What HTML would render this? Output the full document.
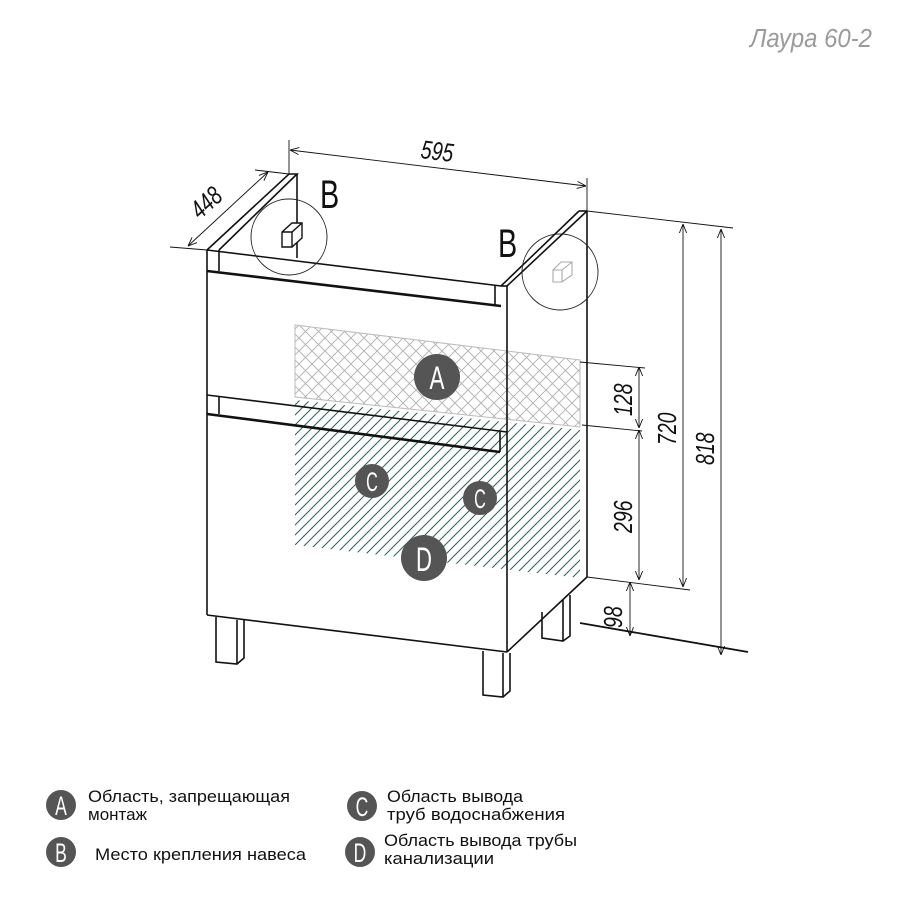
<!DOCTYPE html>
<html><head><meta charset="utf-8">
<style>
html,body{margin:0;padding:0;background:#fff;}
svg{display:block;}
.dim{font-family:"Liberation Sans",sans-serif;font-style:italic;fill:#111;}
.leg{font-family:"Liberation Sans","Noto Sans CJK SC",sans-serif;font-size:17px;fill:#111;}
.cl{font-family:"Liberation Sans",sans-serif;fill:#fff;text-anchor:middle;}
</style></head>
<body>
<svg width="917" height="917" viewBox="0 0 917 917" xmlns="http://www.w3.org/2000/svg">
<defs>
<pattern id="cross" patternUnits="userSpaceOnUse" width="13" height="13">
<path d="M0,0 L13,13 M13,0 L0,13" stroke="#b0b0b0" stroke-width="0.9"/>
</pattern>
<pattern id="green" patternUnits="userSpaceOnUse" width="10" height="10">
<path d="M-2,12 L12,-2 M-2,2 L2,-2 M8,12 L12,8" stroke="#1f6a50" stroke-width="1"/>
</pattern>
<marker id="ar" viewBox="0 0 10 10" refX="10" refY="5" markerWidth="9" markerHeight="9" orient="auto-start-reverse" markerUnits="userSpaceOnUse">
<path d="M0,1 L10,5 L0,9" fill="none" stroke="#111" stroke-width="1"/>
</marker>
</defs>
<rect width="917" height="917" fill="#fff"/>

<text transform="translate(750,47) scale(0.92,1)" font-family="Liberation Sans, sans-serif" font-style="italic" font-size="26" fill="#9a9a9a">Лаура 60-2</text>

<polygon points="295,325 580,360 580,427 295,397" fill="url(#cross)" stroke="#bbb" stroke-width="1"/>
<polygon points="295,400 580,430 580,578 295,545" fill="url(#green)"/>

<g stroke="#111" fill="none" stroke-width="1.6">
<polyline points="207,250 289,174 297,174 219,250"/>
<line x1="297" y1="174" x2="297" y2="258"/>
<line x1="207" y1="250" x2="501" y2="286"/>
<line x1="207" y1="271" x2="501" y2="306" stroke-width="2.6"/>
<line x1="219" y1="250" x2="219" y2="271"/>
<line x1="495" y1="286" x2="495" y2="305"/>
<line x1="207" y1="250" x2="207" y2="615"/>
<line x1="507" y1="286" x2="507" y2="652"/>
<line x1="501" y1="286" x2="507" y2="286"/>
<line x1="207" y1="615" x2="507" y2="652"/>
<line x1="207" y1="395" x2="507" y2="432"/>
<line x1="207" y1="414" x2="500" y2="452" stroke-width="2.6"/>
<line x1="219" y1="396" x2="219" y2="414"/>
<line x1="500" y1="432" x2="500" y2="452"/>
<line x1="501" y1="286" x2="579" y2="211"/>
<line x1="507" y1="286" x2="587" y2="211"/>
<line x1="579" y1="211" x2="587" y2="211"/>
<line x1="587" y1="211" x2="587" y2="577"/>
<line x1="507" y1="652" x2="587" y2="577"/>
<polyline points="216,617 216,662 237,664 244,658 244,620"/>
<line x1="237" y1="620" x2="237" y2="664"/>
<polyline points="483,651 483,695 503,697 510,691 510,653"/>
<line x1="503" y1="653" x2="503" y2="697"/>
<polyline points="542,612 542,638 563,641 570,636 570,595"/>
<line x1="563" y1="600" x2="563" y2="641"/>
</g>

<g stroke="#111" fill="#fff" stroke-width="1.4">
<polygon points="282,232 292,223 302,223 302,238 292,247 282,247"/>
<polyline points="282,232 292,232 302,223" fill="none"/>
<line x1="292" y1="232" x2="292" y2="247"/>
</g>
<g stroke="#aaa" fill="none" stroke-width="1.1">
<polygon points="553,270 561,262 572,262 572,275 562,282 553,282"/>
<polyline points="553,270 562,270 572,262"/>
<line x1="562" y1="270" x2="562" y2="282"/>
</g>
<circle cx="289" cy="237" r="38" fill="none" stroke="#222" stroke-width="0.9"/>
<circle cx="560" cy="272" r="38" fill="none" stroke="#222" stroke-width="0.9"/>
<text transform="translate(320,208) scale(0.72,1)" font-family="Liberation Sans, sans-serif" font-size="40" fill="#111">B</text>
<text transform="translate(498,257) scale(0.72,1)" font-family="Liberation Sans, sans-serif" font-size="40" fill="#111">B</text>

<g stroke="#111" stroke-width="0.9" fill="none">
<line x1="289" y1="140" x2="289" y2="174"/>
<line x1="587" y1="178" x2="587" y2="211"/>
<line x1="290" y1="150" x2="586" y2="186" marker-start="url(#ar)" marker-end="url(#ar)"/>
<line x1="170" y1="247" x2="207" y2="250"/>
<line x1="255" y1="170" x2="289" y2="174"/>
<line x1="188" y1="246" x2="268" y2="172" marker-start="url(#ar)" marker-end="url(#ar)"/>
<line x1="587" y1="211" x2="733" y2="228"/>
<line x1="580" y1="362" x2="645" y2="368"/>
<line x1="582" y1="425" x2="642" y2="431"/>
<line x1="587" y1="577" x2="690" y2="590"/>
<line x1="639" y1="367" x2="639" y2="428" marker-start="url(#ar)" marker-end="url(#ar)"/>
<line x1="639" y1="430" x2="639" y2="580" marker-start="url(#ar)" marker-end="url(#ar)"/>
<line x1="630" y1="582" x2="630" y2="636" marker-start="url(#ar)" marker-end="url(#ar)"/>
<line x1="683" y1="224" x2="683" y2="587" marker-start="url(#ar)" marker-end="url(#ar)"/>
<line x1="721" y1="229" x2="721" y2="655" marker-start="url(#ar)" marker-end="url(#ar)"/>
</g>
<line x1="580" y1="623" x2="748" y2="652" stroke="#111" stroke-width="1.8"/>

<text class="dim" font-size="26" transform="translate(420,158) rotate(7) scale(0.75,1)">595</text>
<text class="dim" font-size="26" transform="translate(200,220) rotate(-42) scale(0.75,1)">448</text>
<text class="dim" font-size="26" transform="translate(632,416) rotate(-90) scale(0.75,1)">128</text>
<text class="dim" font-size="26" transform="translate(632,533) rotate(-90) scale(0.75,1)">296</text>
<text class="dim" font-size="26" transform="translate(622,628) rotate(-90) scale(0.75,1)">98</text>
<text class="dim" font-size="26" transform="translate(676,445) rotate(-90) scale(0.75,1)">720</text>
<text class="dim" font-size="26" transform="translate(714,465) rotate(-90) scale(0.75,1)">818</text>

<circle cx="437" cy="377" r="23" fill="#555"/>
<text class="cl" transform="translate(437,389) scale(0.7,1)" font-size="32">A</text>
<circle cx="372" cy="481" r="17" fill="#555"/>
<text class="cl" transform="translate(372,491) scale(0.6,1)" font-size="27">C</text>
<circle cx="480" cy="498" r="17" fill="#555"/>
<text class="cl" transform="translate(480,508) scale(0.6,1)" font-size="27">C</text>
<circle cx="424" cy="558" r="23" fill="#555"/>
<text class="cl" transform="translate(424,571) scale(0.65,1)" font-size="34">D</text>

<circle cx="61" cy="805" r="15" fill="#555"/>
<text class="cl" transform="translate(61,815) scale(0.65,1)" font-size="27">A</text>
<circle cx="61" cy="852" r="15" fill="#555"/>
<text class="cl" transform="translate(61,862) scale(0.65,1)" font-size="27">B</text>
<circle cx="362" cy="806" r="15" fill="#555"/>
<text class="cl" transform="translate(362,816) scale(0.65,1)" font-size="27">C</text>
<circle cx="360" cy="852" r="15" fill="#555"/>
<text class="cl" transform="translate(360,862) scale(0.65,1)" font-size="27">D</text>
<text class="leg" x="88" y="802" textLength="202" lengthAdjust="spacingAndGlyphs">Область, запрещающая</text>
<text class="leg" x="88" y="820">монтаж</text>
<text class="leg" x="95" y="860" textLength="211" lengthAdjust="spacingAndGlyphs">Место крепления навеса</text>
<text class="leg" x="387" y="802" textLength="136" lengthAdjust="spacingAndGlyphs">Область вывода</text>
<text class="leg" x="387" y="820" textLength="178" lengthAdjust="spacingAndGlyphs">труб водоснабжения</text>
<text class="leg" x="384" y="846" textLength="193" lengthAdjust="spacingAndGlyphs">Область вывода трубы</text>
<text class="leg" x="384" y="864" textLength="110" lengthAdjust="spacingAndGlyphs">канализации</text>
</svg>
</body></html>
